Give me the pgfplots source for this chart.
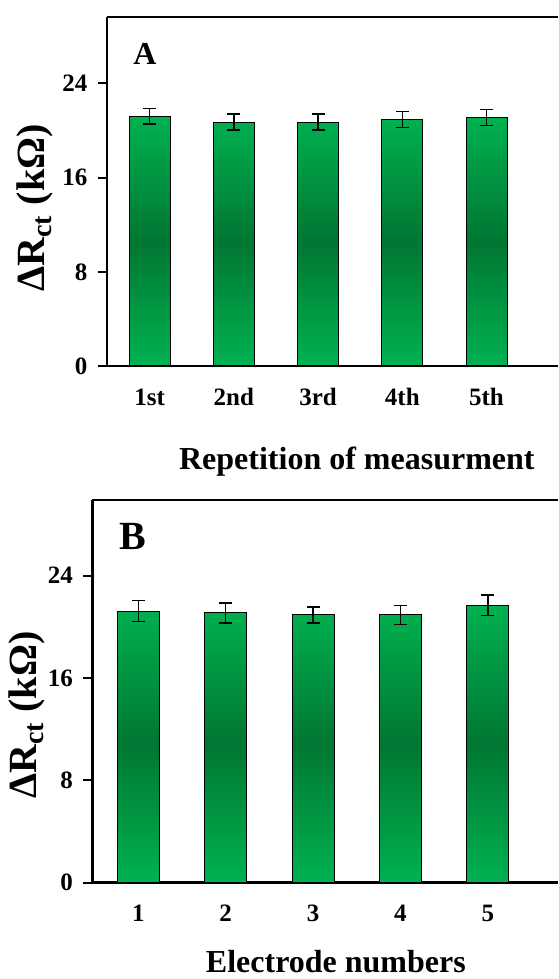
\documentclass[border=0pt]{standalone}
\usepackage{fontspec}
\setmainfont{Liberation Serif}
\usepackage{pgfplots}
\usepackage{pgfplotstable}
\pgfplotsset{compat=1.18}
\pgfplotstableread{
x y e
1 21.23 0.66
2 20.72 0.68
3 20.72 0.68
4 20.92 0.68
5 21.09 0.68
}\dataA
\pgfplotstableread{
x y e
1 21.24 0.80
2 21.09 0.78
3 20.93 0.63
4 20.93 0.76
5 21.69 0.80
}\dataB
\definecolor{gl}{RGB}{0,178,80}
\definecolor{gd}{RGB}{0,118,50}
\pgfplotsset{
  panel/.style={
    scale only axis,
    axis lines*=left,
    axis line style={line width=2.6pt, black},
    ymin=0,
    ytick={0,8,16,24},
    y tick style={line width=2pt, black},
    major tick length=9pt,
    tick align=outside,
    xtick={1,2,3,4,5},
    x tick style={draw=none},
    /pgf/number format/assume math mode=true,
    tick label style={font=\fontsize{25}{25}\selectfont\bfseries},
    xticklabel style={yshift=-10pt},
    yticklabel style={xshift=-7pt},
    label style={font=\fontsize{32}{32}\selectfont\bfseries},
    ylabel style={font=\fontsize{40}{40}\selectfont\bfseries, anchor=center, rotate=0},
    ylabel={ΔR\textsubscript{ct} (kΩ)},
    clip=false,
  },
  bars/.style={ybar, draw=black, line width=1pt, top color=gl, bottom color=gl, middle color=gd},
  errs/.style={draw=none, mark=none, error bars/.cd, y dir=both, y explicit,
    error bar style={line width=1.4pt, draw=black, solid},
    error mark options={rotate=90, mark size=6.5pt, line width=1.4pt, draw=black}},
}
\begin{document}
\begin{tikzpicture}
\useasboundingbox (0,0) rectangle (558pt,979pt);
% Panel A
\begin{axis}[panel, at={(107pt,613pt)}, anchor=south west,
  width=451pt, height=349pt, xmin=0.493, xmax=5.849, ymax=29.65,
  xticklabels={1st,2nd,3rd,4th,5th},
  xlabel={Repetition of measurment},
  xlabel style={at={(axis description cs:0.554,-0.275)}, anchor=center},
  ylabel style={at={(axis description cs:-0.16,0.453)}},
]
\addplot[bars, bar width=41pt] table[x=x, y=y] {\dataA};
\addplot[errs] table[x=x, y=y, y error=e] {\dataA};
\draw[line width=2.6pt] (rel axis cs:0,1) -- (rel axis cs:1,1);
\node[font=\fontsize{32}{32}\selectfont\bfseries] at (axis description cs:0.084,0.894) {A};
\end{axis}
% Panel B
\begin{axis}[panel, at={(92.3pt,96.3pt)}, anchor=south west,
  width=465.7pt, height=382.7pt, xmin=0.474, xmax=5.802, ymax=29.92,
  xticklabels={1,2,3,4,5},
  xlabel={Electrode numbers},
  xlabel style={at={(axis description cs:0.523,-0.205)}, anchor=center},
  ylabel style={at={(axis description cs:-0.14,0.438)}},
]
\addplot[bars, bar width=42pt] table[x=x, y=y] {\dataB};
\addplot[errs] table[x=x, y=y, y error=e] {\dataB};
\draw[line width=2.6pt] (rel axis cs:0,1) -- (rel axis cs:1,1);
\node[font=\fontsize{40}{40}\selectfont\bfseries] at (axis description cs:0.086,0.906) {B};
\end{axis}
\end{tikzpicture}
\end{document}
